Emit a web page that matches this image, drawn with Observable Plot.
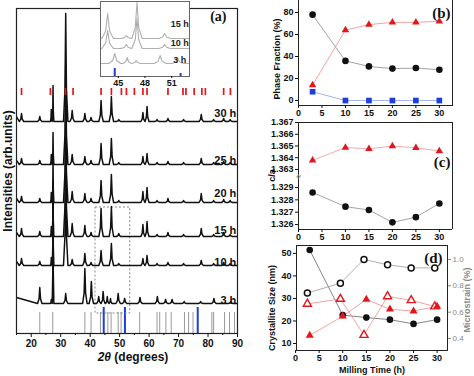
<!DOCTYPE html>
<html>
<head>
<meta charset="utf-8">
<script src="https://cdn.jsdelivr.net/npm/d3@7"></script>
<script src="https://cdn.jsdelivr.net/npm/@observablehq/plot@0.6"></script>
<style>
  html, body { margin: 0; padding: 0; background: white; }
  #root { position: relative; width: 474px; height: 376px; overflow: hidden; background: white; }
  #root svg { position: absolute; background: transparent; overflow: visible; }
</style>
</head>
<body>
<div id="root"></div>
<script>
// ---------------- (a) XRD patterns ----------------
const milledPos = [16.7, 22.9, 26.8, 27.4, 31.7, 33.9, 38.2, 40.3, 43.7, 47.2, 49.7, 57.9, 59.3, 62.7, 66.4, 71.7, 77.7, 81.9, 85.3, 87.5];
const h10 = [7, 4, 8, 65, 100, 6, 12, 3, 15, 22, 2, 7, 10, 2, 3, 2, 5, 2, 3, 2];
const h15 = [8, 5, 10, 55, 100, 13, 11, 4, 28, 30, 3, 12, 15, 2, 4, 2, 8, 2, 4, 2];
const h20 = [6, 4, 10, 45, 100, 11, 9, 4, 22, 28, 2, 11, 15, 2, 4, 2, 9, 2, 3, 2];
const h25 = [6, 4, 10, 32, 100, 10, 8, 4, 21, 26, 2, 8, 11, 2, 3, 2, 6, 2, 3, 2];
const h30 = [8, 5, 12, 36, 108, 11, 8, 4, 21, 25, 2, 9, 15, 2, 3, 2, 7, 2, 3, 2];
const pos3 = [22.9, 26.8, 27.4, 31.7, 38.2, 40.4, 42.9, 44.4, 45.8, 46.9, 49.5, 51.7, 56.9, 62.8, 65.6, 67.8, 71.9, 77.5, 82.0, 87.7];
const h3 = [16, 4, 100, 10, 35, 22, 7, 12, 7, 5, 10, 5, 6, 7, 4, 4, 2, 2, 5, 2];

const patternNames = ["3 h", "10 h", "15 h", "20 h", "25 h", "30 h"];
const patternBase = [30, 68, 97, 131, 169, 212];
const patternLift = [6, 4, 4, 4, 4, 5];
const patternLabelY = [33, 71, 103, 140, 173, 220];

const refSticks = [22.9, 27.3, 38.2, 40.3, 43.5, 46.0, 47.1, 49.5, 50.5, 56.8, 62.7, 63.6, 65.7, 67.5, 72.0, 73.4, 74.9, 81.3, 81.9, 85.6, 87.3, 89.0];
const refStickH = 21;
const coSticks = [44.6, 51.8, 76.5];
const coStickH = 26;
const redTicks = [16.7, 26.5, 31.6, 34.2, 43.7, 47.2, 50.6, 52.3, 55.0, 57.9, 59.3, 66.4, 71.5, 72.5, 75.3, 77.9, 79.1, 85.3, 87.6];
const redTickY = [238, 245];
const zoomBox = {x1: 41.8, x2: 53.6, y1: 20, y2: 126};
const xTicksA = [20, 30, 40, 50, 60, 70, 80, 90];

// inset
const insetNames = ["3 h", "10 h", "15 h"];
const insetBase = [13, 28, 38];
const insetLabelY = [16, 33, 52];
const inset3Pos = [44.6, 46.0, 47.0, 49.7, 51.7];
const inset3H = [10, 6, 3, 8, 5];
const inset10Pos = [43.8, 45.9, 47.1, 50.2];
const inset10H = [18, 4, 30, 4];
const inset15Pos = [43.8, 45.9, 47.1, 50.2];
const inset15H = [25, 3, 36, 5];
const insetCo = [44.6, 52.0];
const insetCoH = [8, 3];
const insetTicks = [45, 48, 51];

// ---------------- (b) phase fraction ----------------
const time = [3, 10, 15, 20, 25, 30];
const timeShift = [2.5, 9.5, 14.5, 19.5, 24.5, 29.5];
const phaseBlack = [78, 36, 31, 29, 29.5, 28];
const phaseRed = [14, 64, 69, 71, 71, 72];
const phaseBlue = [8, 0, 0, 0, 0, 0];

// ---------------- (c) c/a ----------------
const caRed = [1.36378, 1.36487, 1.36476, 1.36499, 1.36485, 1.36457];
const caBlack = [1.3286, 1.32745, 1.32718, 1.32618, 1.3266, 1.32771];
const caTopTicks = [1.363, 1.364, 1.365, 1.366, 1.367];
const caBotTicks = [1.326, 1.327, 1.328, 1.329];

// ---------------- (d) size / strain ----------------
const sizeBlack = [51.5, 22.6, 21.5, 20.6, 18.7, 20.6];
const sizeRed = [13.6, 22.1, 29.6, 25.2, 24.4, 26.5];
const strainBlack = [0.745, 0.82, 1.0, 0.96, 0.936, 0.936];
const strainRed = [0.663, 0.70, 0.426, 0.72, 0.69, 0.643];
const sizeTicks = [10, 20, 30, 40, 50];
const strainTicks = [0.4, 0.6, 0.8, 1.0];

// ---------------- helpers ----------------
const FONT = "'Liberation Sans', Arial, Helvetica, sans-serif";
const SERIF = "'Liberation Serif', 'Times New Roman', serif";
const RED = "#e3161c", BLUE = "#1d3fd6";
const root = document.getElementById("root");

function place(svg, left, top) {
  svg.style.left = left + "px";
  svg.style.top = top + "px";
  root.appendChild(svg);
  return svg;
}
function baseStyle(size) {
  return {fontFamily: FONT, fontSize: size + "px", fontWeight: "bold", overflow: "visible", background: "transparent", color: "#111"};
}
function curve(name, base, lift, pos, hs, w, x0, x1) {
  const pts = [{x: x0, y: base + lift, s: name}];
  pos.forEach((p, i) => {
    const gl = i > 0 ? p - pos[i - 1] : 99, gr = i < pos.length - 1 ? pos[i + 1] - p : 99;
    const f = Math.min(3 * w, gl / 2 - 0.02, gr / 2 - 0.02);
    const h = hs[i];
    pts.push({x: p - f, y: base, s: name}, {x: p - f / 3, y: base + 0.3 * h, s: name},
             {x: p, y: base + h, s: name}, {x: p + f / 3, y: base + 0.3 * h, s: name},
             {x: p + f, y: base, s: name});
  });
  pts.push({x: x1, y: base, s: name});
  return pts;
}

// ---------------- build (a) ----------------
const patPos = [pos3, milledPos, milledPos, milledPos, milledPos, milledPos];
const patH = [h3, h10, h15, h20, h25, h30];
const curvesA = patternNames.flatMap((n, i) => curve(n, patternBase[i], patternLift[i], patPos[i], patH[i], 0.25, 15, 90));
const labelsA = patternNames.map((n, i) => ({n, y: patternLabelY[i]}));

const plotA = Plot.plot({
  width: 240, height: 376,
  marginLeft: 16, marginRight: 3, marginTop: 8, marginBottom: 43,
  style: baseStyle(10),
  x: {domain: [15, 90]},
  y: {domain: [0, 325], axis: null},
  marks: [
    Plot.ruleX(refSticks, {x: d => d, y1: 0, y2: refStickH, stroke: "#9a9a9a", strokeWidth: 1}),
    Plot.ruleX(coSticks, {x: d => d, y1: 0, y2: coStickH, stroke: BLUE, strokeWidth: 2}),
    Plot.rect([zoomBox], {x1: "x1", x2: "x2", y1: "y1", y2: "y2", fill: "none", stroke: "#888", strokeDasharray: "2,2", strokeWidth: 1}),
    Plot.line(curvesA, {x: "x", y: "y", z: "s", stroke: "#111", strokeWidth: 1.5, clip: true}),
    Plot.ruleX(redTicks, {x: d => d, y1: redTickY[0], y2: redTickY[1], stroke: RED, strokeWidth: 1.7}),
    Plot.text(labelsA, {x: 89.6, y: "y", text: "n", textAnchor: "end", fontSize: 11, fontWeight: "bold", fill: "#111"}),
    Plot.frame({stroke: "#222", strokeWidth: 1.2}),
    Plot.axisX({ticks: xTicksA, tickSize: 4, tickPadding: 2, fontSize: 10, label: null}),
    Plot.axisX({ticks: xTicksA.map(t => t - 5), tickSize: 2, tickFormat: () => "", label: null}),
    Plot.text(["Intensities (arb.units)"], {frameAnchor: "left", dx: -8, rotate: -90, fontSize: 12, fontWeight: "bold", textAnchor: "middle"}),
    Plot.text(["2θ (degrees)"], {frameAnchor: "bottom", dx: 6, dy: 24, fontSize: 12, fontWeight: "bold", lineAnchor: "middle"}),
    Plot.text(["(a)"], {frameAnchor: "top-right", dx: -11, dy: 3, fontFamily: SERIF, fontSize: 14, fontWeight: "bold"})
  ]
});
place(plotA, 0, 0);
plotA.querySelectorAll("text").forEach(t => {
  if (t.textContent === "2θ (degrees)") {
    t.textContent = "";
    const ns = "http://www.w3.org/2000/svg";
    const a = document.createElementNS(ns, "tspan"); a.setAttribute("font-style", "italic"); a.textContent = "2θ";
    const b = document.createElementNS(ns, "tspan"); b.textContent = " (degrees)";
    t.appendChild(a); t.appendChild(b);
  }
});

// ---------------- inset ----------------
const insetPos = [inset3Pos, inset10Pos, inset15Pos];
const insetH = [inset3H, inset10H, inset15H];
const curvesI = insetNames.flatMap((n, i) => curve(n, insetBase[i], 0, insetPos[i], insetH[i], 0.22, 43, 53));
const labelsI = insetNames.map((n, i) => ({n, y: insetLabelY[i]}));
const plotI = Plot.plot({
  width: 103, height: 90,
  marginLeft: 7, marginRight: 7, marginTop: 1, marginBottom: 14,
  style: baseStyle(9),
  x: {domain: [43, 53]},
  y: {domain: [0, 75], axis: null},
  marks: [
    Plot.frame({fill: "white", stroke: "none"}),
    Plot.line(curvesI, {x: "x", y: "y", z: "s", stroke: "#b0b0b0", strokeWidth: 1.1, clip: true}),
    Plot.ruleX(insetCo.map((x, i) => ({x, h: insetCoH[i]})), {x: "x", y1: 0, y2: "h", stroke: BLUE, strokeWidth: 2}),
    Plot.text(labelsI, {x: 51.9, y: "y", text: "n", fontSize: 9, fontWeight: "bold", fill: "#222"}),
    Plot.frame({stroke: "#666", strokeWidth: 1}),
    Plot.axisX({ticks: insetTicks, tickSize: 2, tickPadding: 1, fontSize: 9, label: null})
  ]
});
place(plotI, 93, 0);

// ---------------- (b) ----------------
const tableB = time.map((t, i) => ({t, k: phaseBlack[i], r: phaseRed[i], b: phaseBlue[i]}));
const xTicksR = [0, 5, 10, 15, 20, 25, 30];
const plotB = Plot.plot({
  width: 244, height: 129,
  marginLeft: 68, marginRight: 22, marginTop: 0, marginBottom: 20,
  style: baseStyle(9),
  x: {domain: [0, 32.8]},
  y: {domain: [-4.5, 94.5]},
  marks: [
    Plot.frame({stroke: "#222"}),
    Plot.axisX({ticks: xTicksR, tickSize: 3, tickPadding: 1, fontSize: 9, label: null}),
    Plot.axisY({ticks: [0, 20, 40, 60, 80], tickSize: 3, tickPadding: 2, fontSize: 9, label: null}),
    Plot.line(tableB, {x: "t", y: "k", stroke: "#8a8a8a", strokeWidth: 0.8}),
    Plot.line(tableB, {x: "t", y: "r", stroke: "#f08a8a", strokeWidth: 0.8}),
    Plot.line(tableB, {x: "t", y: "b", stroke: "#8aa0f0", strokeWidth: 0.8}),
    Plot.dot(tableB, {x: "t", y: "k", r: 3.3, fill: "#111", stroke: "none"}),
    Plot.dot(tableB, {x: "t", y: "r", symbol: "triangle", r: 2.8, fill: RED, stroke: "none"}),
    Plot.dot(tableB, {x: "t", y: "b", symbol: "square", r: 3.2, fill: BLUE, stroke: "none"}),
    Plot.text(["Phase Fraction (%)"], {frameAnchor: "left", dx: -21, dy: 8, rotate: -90, fontSize: 9, fontWeight: "bold", textAnchor: "middle"}),
    Plot.text(["(b)"], {frameAnchor: "top-right", dx: -2, dy: 17, lineAnchor: "middle", fontFamily: SERIF, fontSize: 15, fontWeight: "bold"})
  ]
});
place(plotB, 230, -4);

// ---------------- (c) ----------------
const tableC = time.map((t, i) => ({t, r: caRed[i], k: caBlack[i]}));
const fmt3 = d3.format(".3f");
const plotCTop = Plot.plot({
  width: 244, height: 58,
  marginLeft: 68, marginRight: 22, marginTop: 4, marginBottom: 0,
  style: baseStyle(9),
  x: {domain: [0, 32.8], axis: null},
  y: {domain: [1.3624, 1.367]},
  marks: [
    Plot.ruleY([1.367], {stroke: "#222"}),
    Plot.ruleX([0, 32.8], {stroke: "#222"}),
    Plot.axisY({ticks: caTopTicks, tickSize: 3, tickPadding: 2, fontSize: 9, tickFormat: fmt3, label: null}),
    Plot.line(tableC, {x: "t", y: "r", stroke: "#f3a0a0", strokeWidth: 0.9}),
    Plot.dot(tableC, {x: "t", y: "r", symbol: "triangle", r: 2.8, fill: RED, stroke: "none"}),
    Plot.text(["(c)"], {frameAnchor: "top-right", dx: -2, dy: 40, lineAnchor: "middle", fontFamily: SERIF, fontSize: 15, fontWeight: "bold"})
  ]
});
place(plotCTop, 230, 118);

const plotCBot = Plot.plot({
  width: 244, height: 70,
  marginLeft: 68, marginRight: 22, marginTop: 0, marginBottom: 17,
  style: baseStyle(9),
  x: {domain: [0, 32.8]},
  y: {domain: [1.3256, 1.32989]},
  marks: [
    Plot.ruleY([1.3256], {stroke: "#222"}),
    Plot.ruleX([0, 32.8], {stroke: "#222"}),
    Plot.axisX({ticks: xTicksR, tickSize: 3, tickPadding: 1, fontSize: 9, label: null}),
    Plot.axisY({ticks: caBotTicks, tickSize: 3, tickPadding: 2, fontSize: 9, tickFormat: fmt3, label: null}),
    Plot.line(tableC, {x: "t", y: "k", stroke: "#9a9a9a", strokeWidth: 0.9}),
    Plot.dot(tableC, {x: "t", y: "k", r: 3.3, fill: "#111", stroke: "none"}),
    Plot.text(["≈"], {frameAnchor: "top-left", textAnchor: "middle", lineAnchor: "middle", rotate: -60, fontSize: 8, fill: "#777"}),
    Plot.text(["c/a"], {frameAnchor: "top-left", dx: -26, dy: -1, rotate: -90, textAnchor: "middle", lineAnchor: "middle", fontSize: 9, fontWeight: "bold"})
  ]
});
place(plotCBot, 230, 176);

// ---------------- (d) ----------------
const sizeDomain = [6.9, 53.5];
const strainDomain = [0.309, 1.106];
const toSize = d3.scaleLinear(strainDomain, sizeDomain);
const tableD = time.map((t, i) => ({t, ts: timeShift[i], sk: sizeBlack[i], sr: sizeRed[i], ek: toSize(strainBlack[i]), er: toSize(strainRed[i])}));
const plotD = Plot.plot({
  width: 244, height: 136,
  marginLeft: 66, marginRight: 27, marginTop: 5, marginBottom: 26,
  style: baseStyle(9),
  x: {domain: [0.2, 32.2]},
  y: {domain: sizeDomain},
  marks: [
    Plot.frame({stroke: "#222"}),
    Plot.axisX({ticks: xTicksR, tickSize: 3, tickPadding: 1, fontSize: 9, label: null}),
    Plot.axisY({ticks: sizeTicks, tickSize: 3, tickPadding: 2, fontSize: 9, label: null}),
    Plot.axisY(strainTicks.map(toSize), {anchor: "right", tickSize: 3, tickPadding: 2, fontSize: 8, fontWeight: "normal",
      tickFormat: d => toSize.invert(d).toFixed(1), stroke: "#888", fill: "#888", label: null}),
    Plot.line(tableD, {x: "t", y: "sk", stroke: "#666", strokeWidth: 0.8}),
    Plot.line(tableD, {x: "ts", y: "ek", stroke: "#999", strokeWidth: 0.8}),
    Plot.line(tableD, {x: "t", y: "sr", stroke: "#f08a8a", strokeWidth: 0.8}),
    Plot.line(tableD, {x: "ts", y: "er", stroke: "#f08a8a", strokeWidth: 0.8}),
    Plot.dot(tableD, {x: "ts", y: "ek", r: 3, fill: "white", stroke: "#111", strokeWidth: 1.5}),
    Plot.dot(tableD, {x: "ts", y: "er", symbol: "triangle", r: 3, fill: "white", stroke: RED, strokeWidth: 1.4}),
    Plot.dot(tableD, {x: "t", y: "sk", r: 3.3, fill: "#111", stroke: "none"}),
    Plot.dot(tableD, {x: "t", y: "sr", symbol: "triangle", r: 3, fill: RED, stroke: "none"}),
    Plot.text(["Crystallite Size (nm)"], {frameAnchor: "left", dx: -24, dy: 10, rotate: -90, fontSize: 9, fontWeight: "bold", textAnchor: "middle"}),
    Plot.text(["Microstrain (%)"], {frameAnchor: "right", dx: 20, dy: 2, rotate: -90, fontSize: 9, fontWeight: "bold", fill: "#8a8a8a", textAnchor: "middle"}),
    Plot.text(["Milling Time (h)"], {frameAnchor: "bottom", dy: 20, lineAnchor: "middle", fontSize: 9, fontWeight: "bold"}),
    Plot.text(["(d)"], {frameAnchor: "top-right", dx: -5, dy: 13, lineAnchor: "middle", fontFamily: SERIF, fontSize: 15, fontWeight: "bold"})
  ]
});
place(plotD, 230, 240);
</script>
</body>
</html>
